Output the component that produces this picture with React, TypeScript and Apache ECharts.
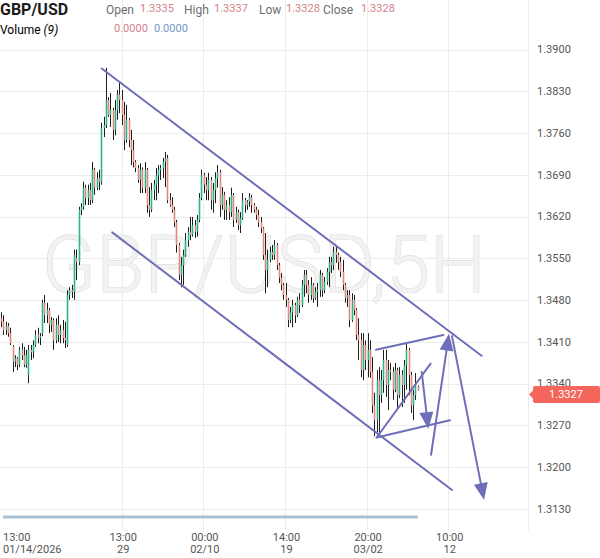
import React, { useEffect, useRef } from "react";
import * as echarts from "echarts";

// ---------- data ----------
const pairName = "GBP/USD";
const watermarkText = "GBP/USD,5H";
const headerLabels = ["Open", "High", "Low", "Close"];
const headerValues = ["1.3335", "1.3337", "1.3328", "1.3328"];
const volumeValues = ["0.0000", "0.0000"];
const lastPrice = 1.3327;

// one candle per 5H bar: [open, close, low, high]
const candles: number[][] = [
  [1.3450, 1.3444, 1.3435, 1.3460], [1.3444, 1.3430, 1.3422, 1.3455], [1.3430, 1.3437, 1.3422, 1.3444],
  [1.3437, 1.3425, 1.3419, 1.3442], [1.3425, 1.3408, 1.3405, 1.3434], [1.3403, 1.3377, 1.3360, 1.3405],
  [1.3377, 1.3383, 1.3368, 1.3388], [1.3383, 1.3372, 1.3363, 1.3385], [1.3372, 1.3397, 1.3368, 1.3402],
  [1.3397, 1.3388, 1.3380, 1.3408], [1.3388, 1.3372, 1.3368, 1.3402], [1.3372, 1.3388, 1.3367, 1.3397],
  [1.3355, 1.3397, 1.3341, 1.3405], [1.3397, 1.3393, 1.3380, 1.3405], [1.3393, 1.3405, 1.3383, 1.3413],
  [1.3405, 1.3422, 1.3402, 1.3430], [1.3422, 1.3417, 1.3408, 1.3434], [1.3417, 1.3420, 1.3405, 1.3425],
  [1.3424, 1.3476, 1.3420, 1.3481], [1.3476, 1.3455, 1.3442, 1.3489], [1.3455, 1.3464, 1.3442, 1.3476],
  [1.3464, 1.3439, 1.3425, 1.3467], [1.3439, 1.3447, 1.3427, 1.3452], [1.3447, 1.3413, 1.3397, 1.3450],
  [1.3413, 1.3439, 1.3408, 1.3450], [1.3439, 1.3422, 1.3410, 1.3455], [1.3422, 1.3430, 1.3408, 1.3439],
  [1.3430, 1.3417, 1.3408, 1.3447], [1.3417, 1.3413, 1.3400, 1.3444], [1.3405, 1.3489, 1.3402, 1.3497],
  [1.3489, 1.3497, 1.3481, 1.3502], [1.3497, 1.3494, 1.3484, 1.3506], [1.3494, 1.3556, 1.3481, 1.3565],
  [1.3551, 1.3544, 1.3514, 1.3565], [1.3544, 1.3632, 1.3539, 1.3637], [1.3632, 1.3637, 1.3623, 1.3643],
  [1.3637, 1.3669, 1.3632, 1.3679], [1.3669, 1.3652, 1.3640, 1.3674], [1.3652, 1.3665, 1.3640, 1.3674],
  [1.3665, 1.3648, 1.3640, 1.3677], [1.3648, 1.3699, 1.3643, 1.3712], [1.3699, 1.3669, 1.3657, 1.3702],
  [1.3669, 1.3685, 1.3665, 1.3695], [1.3685, 1.3679, 1.3665, 1.3699], [1.3679, 1.3769, 1.3674, 1.3778],
  [1.3769, 1.3774, 1.3754, 1.3788], [1.3774, 1.3816, 1.3769, 1.3870], [1.3816, 1.3791, 1.3788, 1.3821],
  [1.3791, 1.3799, 1.3771, 1.3828], [1.3799, 1.3766, 1.3749, 1.3803], [1.3766, 1.3799, 1.3757, 1.3816],
  [1.3799, 1.3825, 1.3783, 1.3833], [1.3825, 1.3816, 1.3794, 1.3845], [1.3816, 1.3791, 1.3774, 1.3833],
  [1.3791, 1.3749, 1.3732, 1.3813], [1.3749, 1.3783, 1.3744, 1.3808], [1.3783, 1.3749, 1.3737, 1.3786],
  [1.3749, 1.3732, 1.3707, 1.3766], [1.3732, 1.3712, 1.3703, 1.3749], [1.3712, 1.3702, 1.3695, 1.3715],
  [1.3702, 1.3682, 1.3677, 1.3707], [1.3682, 1.3699, 1.3660, 1.3710], [1.3699, 1.3669, 1.3660, 1.3703],
  [1.3669, 1.3699, 1.3660, 1.3712], [1.3699, 1.3640, 1.3627, 1.3702], [1.3640, 1.3632, 1.3620, 1.3670],
  [1.3632, 1.3665, 1.3628, 1.3677], [1.3665, 1.3674, 1.3648, 1.3682], [1.3674, 1.3690, 1.3648, 1.3702],
  [1.3690, 1.3699, 1.3660, 1.3707], [1.3699, 1.3702, 1.3682, 1.3707], [1.3702, 1.3712, 1.3685, 1.3719],
  [1.3712, 1.3719, 1.3670, 1.3729], [1.3719, 1.3648, 1.3643, 1.3724], [1.3648, 1.3640, 1.3637, 1.3660],
  [1.3640, 1.3632, 1.3627, 1.3653], [1.3632, 1.3611, 1.3603, 1.3637], [1.3611, 1.3573, 1.3560, 1.3615],
  [1.3573, 1.3523, 1.3514, 1.3576], [1.3523, 1.3539, 1.3502, 1.3553], [1.3539, 1.3556, 1.3506, 1.3565],
  [1.3556, 1.3581, 1.3553, 1.3593], [1.3581, 1.3595, 1.3570, 1.3603], [1.3595, 1.3590, 1.3581, 1.3620],
  [1.3590, 1.3606, 1.3587, 1.3620], [1.3606, 1.3595, 1.3585, 1.3615], [1.3595, 1.3615, 1.3587, 1.3623],
  [1.3615, 1.3652, 1.3611, 1.3660], [1.3652, 1.3690, 1.3648, 1.3699], [1.3690, 1.3674, 1.3660, 1.3694],
  [1.3674, 1.3665, 1.3648, 1.3687], [1.3665, 1.3682, 1.3648, 1.3694], [1.3682, 1.3648, 1.3632, 1.3687],
  [1.3648, 1.3665, 1.3627, 1.3677], [1.3665, 1.3685, 1.3643, 1.3695], [1.3685, 1.3695, 1.3669, 1.3707],
  [1.3695, 1.3640, 1.3620, 1.3699], [1.3640, 1.3657, 1.3632, 1.3670], [1.3657, 1.3632, 1.3615, 1.3662],
  [1.3632, 1.3640, 1.3615, 1.3648], [1.3640, 1.3628, 1.3615, 1.3653], [1.3628, 1.3657, 1.3620, 1.3669],
  [1.3657, 1.3615, 1.3603, 1.3660], [1.3615, 1.3628, 1.3610, 1.3637], [1.3628, 1.3606, 1.3598, 1.3632],
  [1.3606, 1.3618, 1.3593, 1.3628], [1.3618, 1.3648, 1.3615, 1.3660], [1.3648, 1.3640, 1.3627, 1.3652],
  [1.3640, 1.3645, 1.3632, 1.3648], [1.3645, 1.3653, 1.3637, 1.3660], [1.3653, 1.3640, 1.3627, 1.3657],
  [1.3640, 1.3632, 1.3627, 1.3643], [1.3632, 1.3623, 1.3615, 1.3637], [1.3623, 1.3611, 1.3603, 1.3632],
  [1.3611, 1.3601, 1.3593, 1.3620], [1.3601, 1.3556, 1.3548, 1.3603], [1.3556, 1.3531, 1.3492, 1.3593],
  [1.3531, 1.3548, 1.3502, 1.3565], [1.3548, 1.3561, 1.3544, 1.3570], [1.3561, 1.3556, 1.3548, 1.3573],
  [1.3556, 1.3573, 1.3548, 1.3581], [1.3573, 1.3539, 1.3531, 1.3576], [1.3539, 1.3518, 1.3509, 1.3543],
  [1.3518, 1.3506, 1.3497, 1.3526], [1.3506, 1.3489, 1.3481, 1.3509], [1.3489, 1.3481, 1.3469, 1.3509],
  [1.3481, 1.3447, 1.3435, 1.3484], [1.3447, 1.3460, 1.3442, 1.3469], [1.3460, 1.3472, 1.3435, 1.3481],
  [1.3472, 1.3455, 1.3442, 1.3476], [1.3455, 1.3481, 1.3452, 1.3486], [1.3481, 1.3472, 1.3459, 1.3492],
  [1.3472, 1.3506, 1.3469, 1.3514], [1.3506, 1.3523, 1.3486, 1.3531], [1.3523, 1.3506, 1.3492, 1.3531],
  [1.3506, 1.3489, 1.3476, 1.3514], [1.3489, 1.3506, 1.3481, 1.3519], [1.3506, 1.3484, 1.3476, 1.3509],
  [1.3484, 1.3494, 1.3481, 1.3502], [1.3494, 1.3497, 1.3469, 1.3509], [1.3497, 1.3523, 1.3486, 1.3531],
  [1.3523, 1.3497, 1.3486, 1.3526], [1.3497, 1.3511, 1.3492, 1.3519], [1.3511, 1.3528, 1.3506, 1.3534],
  [1.3528, 1.3544, 1.3502, 1.3553], [1.3544, 1.3539, 1.3526, 1.3553], [1.3539, 1.3561, 1.3531, 1.3570],
  [1.3561, 1.3556, 1.3543, 1.3573], [1.3556, 1.3544, 1.3531, 1.3560], [1.3544, 1.3528, 1.3519, 1.3553],
  [1.3528, 1.3506, 1.3497, 1.3548], [1.3506, 1.3484, 1.3476, 1.3509], [1.3484, 1.3489, 1.3469, 1.3497],
  [1.3489, 1.3447, 1.3435, 1.3497], [1.3447, 1.3481, 1.3444, 1.3492], [1.3481, 1.3464, 1.3455, 1.3489],
  [1.3464, 1.3422, 1.3413, 1.3467], [1.3422, 1.3413, 1.3380, 1.3450], [1.3413, 1.3363, 1.3351, 1.3425],
  [1.3363, 1.3405, 1.3346, 1.3425], [1.3405, 1.3380, 1.3363, 1.3413], [1.3380, 1.3397, 1.3351, 1.3425],
  [1.3397, 1.3360, 1.3350, 1.3413], [1.3360, 1.3304, 1.3291, 1.3385], [1.3304, 1.3279, 1.3252, 1.3325],
  [1.3279, 1.3346, 1.3259, 1.3363], [1.3346, 1.3321, 1.3257, 1.3368], [1.3321, 1.3346, 1.3308, 1.3363],
  [1.3346, 1.3380, 1.3325, 1.3397], [1.3380, 1.3338, 1.3318, 1.3397], [1.3338, 1.3363, 1.3296, 1.3380],
  [1.3363, 1.3360, 1.3346, 1.3375], [1.3360, 1.3330, 1.3313, 1.3368], [1.3330, 1.3363, 1.3326, 1.3375],
  [1.3363, 1.3321, 1.3296, 1.3367], [1.3321, 1.3355, 1.3316, 1.3368], [1.3355, 1.3338, 1.3301, 1.3363],
  [1.3338, 1.3372, 1.3308, 1.3380], [1.3372, 1.3397, 1.3330, 1.3408], [1.3397, 1.3355, 1.3321, 1.3400],
  [1.3355, 1.3304, 1.3291, 1.3360], [1.3304, 1.3321, 1.3279, 1.3330], [1.3321, 1.3338, 1.3313, 1.3358],
  [1.3335, 1.3328, 1.3328, 1.3337],
];

// volume per bar (all read as 0.0000)
const volume: number[] = [
  0, 0, 0, 0, 0, 0, 0, 0, 0, 0, 0, 0, 0, 0, 0, 0, 0, 0, 0, 0, 0, 0, 0, 0, 0, 0, 0, 0, 0, 0,
  0, 0, 0, 0, 0, 0, 0, 0, 0, 0, 0, 0, 0, 0, 0, 0, 0, 0, 0, 0, 0, 0, 0, 0, 0, 0, 0, 0, 0, 0,
  0, 0, 0, 0, 0, 0, 0, 0, 0, 0, 0, 0, 0, 0, 0, 0, 0, 0, 0, 0, 0, 0, 0, 0, 0, 0, 0, 0, 0, 0,
  0, 0, 0, 0, 0, 0, 0, 0, 0, 0, 0, 0, 0, 0, 0, 0, 0, 0, 0, 0, 0, 0, 0, 0, 0, 0, 0, 0, 0, 0,
  0, 0, 0, 0, 0, 0, 0, 0, 0, 0, 0, 0, 0, 0, 0, 0, 0, 0, 0, 0, 0, 0, 0, 0, 0, 0, 0, 0, 0, 0,
  0, 0, 0, 0, 0, 0, 0, 0, 0, 0, 0, 0, 0, 0, 0, 0, 0, 0, 0, 0, 0, 0, 0, 0, 0, 0, 0, 0, 0, 0,
  0, 0, 0, 0,
];

// bar slots on the time axis (including empty future slots)
const slotCount = 232;
const xTickIndex = [0, 53, 89, 125, 161, 197];
const xTickLabel = ["13:00\n01/14/2026", "13:00\n29", "00:00\n02/10", "14:00\n19", "20:00\n03/02", "10:00\n12"];

// price axis
const yMin = 1.306;
const yMax = 1.397;
const yStep = 0.007;

// drawn trend lines: [barFrom, priceFrom, barTo, priceTo, arrowHead]
const drawings: number[][] = [
  [44.2, 1.3869, 211.1, 1.3387, 0],
  [48.8, 1.3594, 198.1, 1.3162, 0],
  [164.7, 1.3397, 194.3, 1.3422, 0],
  [165.0, 1.3250, 197.2, 1.3279, 0],
  [165.0, 1.3250, 188.7, 1.3374, 0],
  [184.8, 1.3360, 187.7, 1.3264, 1],
  [188.9, 1.3221, 196.8, 1.3424, 1],
  [198.1, 1.3420, 212.2, 1.3145, 1],
];

// ---------- styles ----------
const FONT = "Roboto, 'Noto Sans', sans-serif";
const UP = "#2bb48c";
const DOWN = "#e0887d";
const WICK = "#1e1e1e";
const DRAW = "#6f6fb9";
const VAL_RED = "#d4828a";
const VAL_BLUE = "#7896c8";
const LABEL_GRAY = "#6e6e6e";

const categories = Array.from({ length: slotCount }, (_, i) => {
  const p = xTickIndex.indexOf(i);
  return p >= 0 ? xTickLabel[p] : "";
});
const isTick = (i: number) => xTickIndex.indexOf(i) >= 0;

export default function App() {
  const ref = useRef<HTMLDivElement>(null);

  useEffect(() => {
    if (!ref.current) return;
    const chart = echarts.init(ref.current, null, { renderer: "svg" });

    const plotTop = 8.27;
    const plotBottom = 7.27;

    const option: any = {
      animation: false,
      backgroundColor: "#ffffff",
      grid: [
        { left: 0, right: 72, top: plotTop, bottom: plotBottom },
        { left: 0, right: 72, top: 0, bottom: 28 },
      ],
      xAxis: [
        { gridIndex: 0, type: "value", min: -0.5, max: slotCount - 0.5, show: false },
        {
          gridIndex: 1,
          type: "category",
          data: categories,
          boundaryGap: true,
          axisLine: { show: false },
          axisTick: { show: false },
          splitLine: {
            show: true,
            interval: (i: number) => isTick(i) && i !== 0,
            lineStyle: { color: "#ececec", width: 1 },
          },
          axisLabel: {
            interval: (i: number) => isTick(i),
            color: "#555",
            fontSize: 11,
            fontFamily: FONT,
            lineHeight: 12,
            margin: 1,
            alignMinLabel: "left",
          },
        },
      ],
      yAxis: [
        {
          gridIndex: 0,
          type: "value",
          position: "right",
          min: yMin,
          max: yMax,
          interval: yStep,
          axisLine: { show: false },
          axisTick: { show: false },
          splitLine: { show: true, showMinLine: false, showMaxLine: false, lineStyle: { color: "#ececec" } },
          axisLabel: {
            color: "#555",
            fontSize: 11,
            fontFamily: FONT,
            margin: 9,
            showMinLabel: false,
            showMaxLabel: false,
            formatter: (v: number) => v.toFixed(4),
          },
        },
        { gridIndex: 1, type: "value", min: -1, max: 40, show: false },
      ],
      series: [
        {
          type: "line",
          xAxisIndex: 1,
          yAxisIndex: 1,
          data: volume,
          symbol: "none",
          lineStyle: { color: "#a9c1d5", width: 3 },
          silent: true,
          z: 3,
        },
        {
          type: "custom",
          xAxisIndex: 0,
          yAxisIndex: 0,
          data: candles.map((r, i) => [i, r[0], r[1], r[2], r[3]]),
          encode: { x: 0, y: [1, 2, 3, 4] },
          silent: true,
          z: 4,
          renderItem: (_p: any, api: any) => {
            const k = api.value(0);
            const o = api.value(1);
            const c = api.value(2);
            const l = api.value(3);
            const h = api.value(4);
            const pH = api.coord([k, h]);
            const pL = api.coord([k, l]);
            const pO = api.coord([k, o]);
            const pC = api.coord([k, c]);
            const x = Math.round(pH[0]) + 0.5;
            const top = Math.min(pO[1], pC[1]);
            const bh = Math.max(1, Math.abs(pO[1] - pC[1]));
            return {
              type: "group",
              children: [
                { type: "line", shape: { x1: x, y1: pH[1], x2: x, y2: pL[1] }, style: { stroke: WICK, lineWidth: 1 } },
                { type: "rect", shape: { x: x - 0.8, y: top, width: 1.6, height: bh }, style: { fill: c >= o ? UP : DOWN } },
              ],
            };
          },
        },
        {
          type: "custom",
          xAxisIndex: 0,
          yAxisIndex: 0,
          data: drawings,
          encode: { x: [0, 2], y: [1, 3] },
          silent: true,
          z: 6,
          renderItem: (_p: any, api: any) => {
            const a = api.coord([api.value(0), api.value(1)]);
            const b = api.coord([api.value(2), api.value(3)]);
            const arrow = api.value(4) === 1;
            const children: any[] = [];
            let end = b;
            if (arrow) {
              const dx = b[0] - a[0];
              const dy = b[1] - a[1];
              const len = Math.sqrt(dx * dx + dy * dy);
              const ux = dx / len;
              const uy = dy / len;
              const L = 17;
              const W = 7;
              const bx = b[0] - ux * L;
              const by = b[1] - uy * L;
              end = [bx + ux * 2, by + uy * 2];
              children.push({
                type: "polygon",
                shape: { points: [[b[0], b[1]], [bx - uy * W, by + ux * W], [bx + uy * W, by - ux * W]] },
                style: { fill: DRAW },
              });
            }
            children.unshift({
              type: "line",
              shape: { x1: a[0], y1: a[1], x2: end[0], y2: end[1] },
              style: { stroke: DRAW, lineWidth: 2, lineCap: "round" },
            });
            return { type: "group", children };
          },
        },
      ],
    };

    chart.setOption(option);

    // price tag sits slightly below the price level, as in the reference
    const py = (chart.convertToPixel({ yAxisIndex: 0 }, lastPrice) as number) + 3;
    const headerTexts: any[] = [];
    const headerX = [106, 184, 259, 323];
    const valueX = [140, 214, 286, 361];
    headerLabels.forEach((t, i) => {
      headerTexts.push({
        type: "text", x: headerX[i], y: 10,
        style: { text: t, font: `12px ${FONT}`, fill: LABEL_GRAY, textVerticalAlign: "middle" },
      });
      headerTexts.push({
        type: "text", x: valueX[i], y: 8,
        style: { text: headerValues[i], font: `11px ${FONT}`, fill: VAL_RED, textVerticalAlign: "middle" },
      });
    });

    chart.setOption({
      graphic: [
        {
          type: "text", x: 264, y: 265, z: 0, silent: true,
          style: {
            text: watermarkText, font: `300 79px ${FONT}`, fill: "#f2f2f0", stroke: "#dedede", lineWidth: 1.2,
            textAlign: "center", textVerticalAlign: "middle",
          },
        },
        {
          type: "text", x: 0, y: 9, z: 10,
          style: { text: pairName, font: `bold 16px ${FONT}`, fill: "#1c1c1c", textVerticalAlign: "middle" },
        },
        ...headerTexts,
        {
          type: "text", x: 0, y: 30, z: 10,
          style: {
            text: "{a|Volume }{b|(9)}", textVerticalAlign: "middle",
            rich: {
              a: { fontSize: 12, fontFamily: FONT, color: "#5e5e5e" },
              b: { fontSize: 12, fontFamily: FONT, color: "#5e5e5e", fontStyle: "italic" },
            },
          },
        },
        {
          type: "text", x: 114, y: 28, z: 10,
          style: { text: volumeValues[0], font: `11px ${FONT}`, fill: VAL_RED, textVerticalAlign: "middle" },
        },
        {
          type: "text", x: 154, y: 28, z: 10,
          style: { text: volumeValues[1], font: `11px ${FONT}`, fill: VAL_BLUE, textVerticalAlign: "middle" },
        },
        {
          type: "polygon", z: 20,
          shape: { points: [[529, py], [534, py - 5], [534, py + 5]] },
          style: { fill: "#f4665c" },
        },
        {
          type: "rect", z: 20,
          shape: { x: 533, y: py - 8.5, width: 67, height: 17, r: 2 },
          style: { fill: "#f4665c" },
        },
        {
          type: "text", x: 566, y: py, z: 21,
          style: {
            text: lastPrice.toFixed(4), font: `11px ${FONT}`, fill: "#ffffff",
            textAlign: "center", textVerticalAlign: "middle",
          },
        },
      ],
    });

    return () => chart.dispose();
  }, []);

  return (
    <div
      ref={ref}
      style={{ position: "fixed", left: 0, top: 0, width: 600, height: 558, background: "#fff" }}
    />
  );
}
